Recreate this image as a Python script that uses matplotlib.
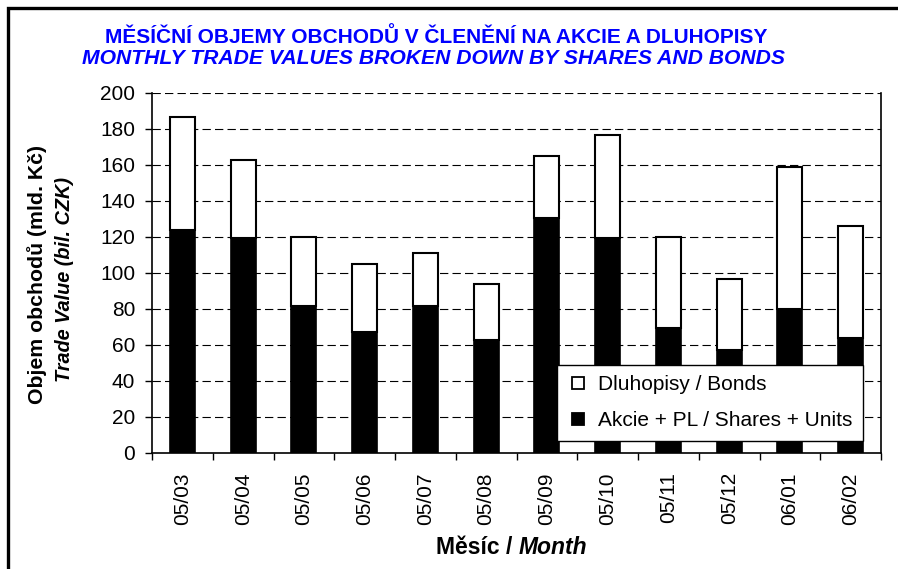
import matplotlib
matplotlib.use('Agg')
import matplotlib.pyplot as plt
from matplotlib.patches import Rectangle
from matplotlib.lines import Line2D
import numpy as np

plt.rcParams['font.family'] = ['Liberation Sans', 'DejaVu Sans']
plt.rcParams['lines.scale_dashes'] = False

# data (bil. CZK)
months = ['05/03', '05/04', '05/05', '05/06', '05/07', '05/08',
          '05/09', '05/10', '05/11', '05/12', '06/01', '06/02']
shares = [123.7, 119.4, 81.7, 66.9, 81.5, 62.6, 130.2, 119.1, 69.4, 57.0, 79.8, 63.7]
bonds = [62.8, 43.2, 38.0, 37.8, 29.6, 31.3, 34.6, 57.4, 50.3, 39.3, 78.8, 62.4]
yticks = [0, 20, 40, 60, 80, 100, 120, 140, 160, 180, 200]

W, H = 898, 569
fig = plt.figure(figsize=(W / 100, H / 100), dpi=100)
ax = fig.add_axes([152 / W, 1 - 452.7 / H, 729 / W, 360 / H])

x = np.arange(len(months))
ax.bar(x, shares, width=0.41, color='black', edgecolor='black', lw=1.2, zorder=3)
ax.bar(x, bonds, width=0.41, bottom=shares, color='white', edgecolor='black',
       lw=1.5, zorder=3)

ax.set_xlim(-0.5, len(months) - 0.5)
ax.set_ylim(0, 200)
ax.set_yticks(yticks)
ax.set_xticks(x)
ax.set_xticklabels(months, rotation=90)
ax.set_xticks(np.arange(len(months) + 1) - 0.5, minor=True)
ax.tick_params(axis='x', which='major', length=0, pad=14, labelsize=15)
ax.tick_params(axis='x', which='minor', length=5, width=1, direction='out')
ax.tick_params(axis='y', length=5, width=1, direction='out', pad=7, labelsize=15)

for y in yticks[1:]:
    ax.axhline(y, color='black', lw=0.8, ls=(0, (6, 3)), zorder=1)

ax.spines['top'].set_visible(False)
for s in ['left', 'bottom', 'right']:
    ax.spines[s].set_linewidth(1.2)

handles = [
    Line2D([], [], ls='none', marker='s', markersize=8, markerfacecolor='white',
           markeredgecolor='black', markeredgewidth=1.3),
    Line2D([], [], ls='none', marker='s', markersize=8, markerfacecolor='black',
           markeredgecolor='black', markeredgewidth=1.3),
]
labels = ['Dluhopisy / Bonds', 'Akcie + PL / Shares + Units']
leg = ax.legend(handles, labels, loc='upper right',
                bbox_to_anchor=(0.9755, 0.2436), fontsize=15, frameon=True,
                fancybox=False, framealpha=1, edgecolor='black',
                handlelength=1.05, handletextpad=0.45,
                labelspacing=0.8, borderpad=0.5, borderaxespad=0)
leg.get_frame().set_linewidth(1.0)
leg.set_zorder(5)

blue = '#0000ff'
fig.text(436 / W, 1 - 37.5 / H, 'MĚSÍČNÍ OBJEMY OBCHODŮ V ČLENĚNÍ NA AKCIE A DLUHOPISY',
         ha='center', va='center', color=blue, fontsize=15, weight='bold')
fig.text(434 / W, 1 - 58.7 / H, 'MONTHLY TRADE VALUES BROKEN DOWN BY SHARES AND BONDS',
         ha='center', va='center', color=blue, fontsize=15.2, weight='bold', style='italic')

fig.text(37 / W, 1 - 275 / H, 'Objem obchodů (mld. Kč)', rotation=90,
         ha='center', va='center', fontsize=15.3, weight='bold')
fig.text(64 / W, 1 - 279 / H, 'Trade Value (bil. CZK)', rotation=90,
         ha='center', va='center', fontsize=14.3, weight='bold', style='italic')

# x axis title with mixed styles
fig.canvas.draw()
r = fig.canvas.get_renderer()
t1 = fig.text(0, 1 - 548 / H, 'Měsíc / ', ha='left', va='center', fontsize=16.5, weight='bold')
t2 = fig.text(0, 1 - 548 / H, 'Month', ha='left', va='center', fontsize=16.5,
              weight='bold', style='italic')
w1 = t1.get_window_extent(r).width
w2 = t2.get_window_extent(r).width
x0 = 512 - (w1 + w2) / 2
t1.set_x(x0 / W)
t2.set_x((x0 + w1) / W)

# outer frame
fig.patches.append(Rectangle((8.3 / W, -0.2), 1.2, 1.2 - 7.5 / H,
                             transform=fig.transFigure, fill=False,
                             lw=2.4, edgecolor='black'))

fig.savefig('out.png', dpi=100)
